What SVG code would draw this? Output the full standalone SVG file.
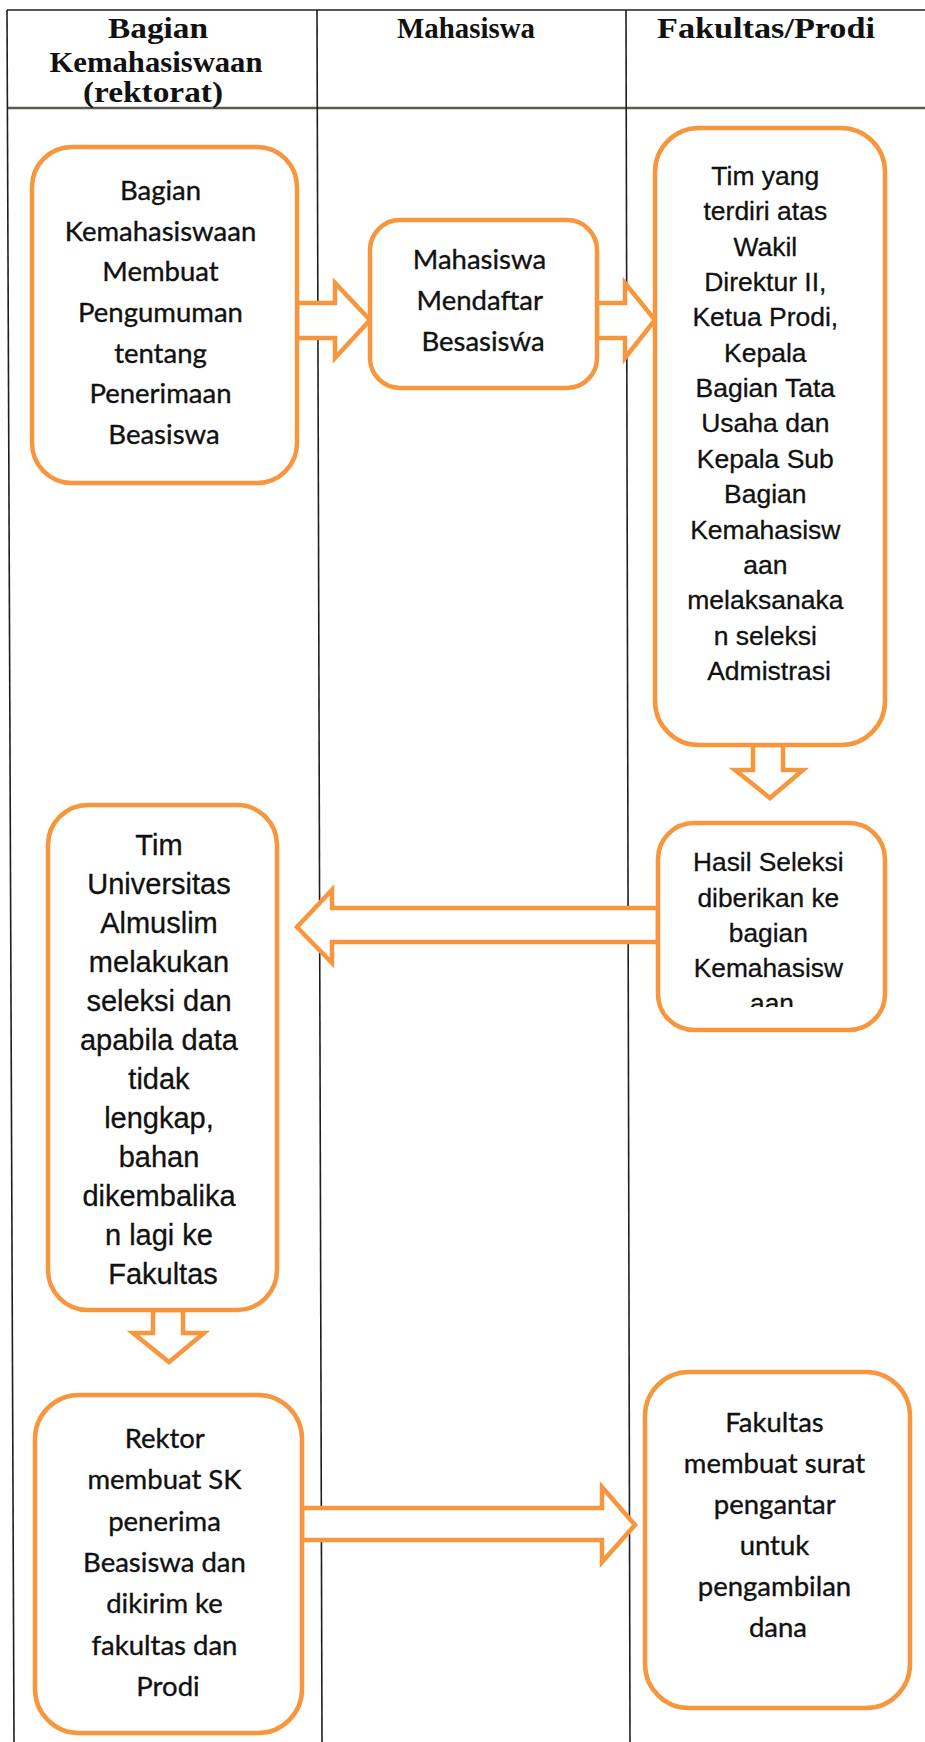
<svg xmlns="http://www.w3.org/2000/svg" width="925" height="1742" viewBox="0 0 925 1742">
  <style>
    .lane { stroke: #1e1e1e; stroke-width: 1.6; fill: none; }
    .rule { stroke: #5a5a50; stroke-width: 2.6; fill: none; }
    .box { fill: #ffffff; stroke: #f7963c; stroke-width: 4.5; }
    .arrow { fill: #ffffff; stroke: #f7963c; stroke-width: 4.5; stroke-linejoin: miter; }
    .head { font-family: "Liberation Serif", "Times New Roman", serif; font-weight: bold; font-size: 30px; fill: #111; text-anchor: middle; }
    .cal { font-family: Lato, "Open Sans", sans-serif; font-size: 27.5px; fill: #111; stroke: #111; stroke-width: 0.35; text-anchor: middle; }
    .ari { font-family: "Liberation Sans", Arial, sans-serif; fill: #111; stroke: #111; stroke-width: 0.3; text-anchor: middle; }
  </style>
  <defs>
    <clipPath id="clip-hasil">
      <rect x="658" y="823" width="227" height="184"/>
    </clipPath>
  </defs>

  <rect x="0" y="0" width="925" height="1742" fill="#ffffff"/>

  <!-- swimlane table -->
  <g id="lanes">
    <line class="lane" x1="7" y1="10" x2="925" y2="10"/>
    <line class="rule" x1="7" y1="108" x2="925" y2="108"/>
    <line class="lane" x1="7" y1="10" x2="14" y2="1742"/>
    <line class="lane" x1="317" y1="10" x2="322" y2="1742"/>
    <line class="lane" x1="626" y1="10" x2="630" y2="1742"/>
  </g>

  <g id="headers">
    <text class="head" x="158" y="38" textLength="100" lengthAdjust="spacingAndGlyphs">Bagian</text>
    <text class="head" x="156" y="72" textLength="213" lengthAdjust="spacingAndGlyphs">Kemahasiswaan</text>
    <text class="head" x="153" y="102" textLength="140" lengthAdjust="spacingAndGlyphs">(rektorat)</text>
    <text class="head" x="466" y="38" textLength="138" lengthAdjust="spacingAndGlyphs">Mahasiswa</text>
    <text class="head" x="766" y="38" textLength="218" lengthAdjust="spacingAndGlyphs">Fakultas/Prodi</text>
  </g>

  <!-- connectors: hollow block arrows -->
  <g id="connectors">
    <polygon class="arrow" points="297,303 335,303 335,283 370,320 335,358 335,338 297,338"/>
    <polygon class="arrow" points="597,303 625,303 625,283 655,320 625,358 625,338 597,338"/>
    <polygon class="arrow" points="753,745 783,745 783,770 803,770 770,798 735,770 753,770"/>
    <polygon class="arrow" points="658,908 332,908 332,890 297,927 332,963 332,942 658,942"/>
    <polygon class="arrow" points="153,1310 183,1310 183,1333 204,1333 169,1362 133,1333 153,1333"/>
    <polygon class="arrow" points="302,1508 602,1508 602,1487 635,1525 602,1562 602,1540 302,1540"/>
  </g>

  <g id="node-pengumuman">
    <rect class="box" x="32" y="147" width="265" height="336" rx="40"/>
    <text class="cal" x="164">
      <tspan x="164" y="200">Bagian</tspan>
      <tspan x="164" y="241">Kemahasiswaan</tspan>
      <tspan x="164" y="281">Membuat</tspan>
      <tspan x="164" y="322">Pengumuman</tspan>
      <tspan x="164" y="363">tentang</tspan>
      <tspan x="164" y="403">Penerimaan</tspan>
      <tspan x="164" y="444">Beasiswa</tspan>
    </text>
  </g>

  <g id="node-mendaftar">
    <rect class="box" x="370" y="220" width="227" height="168" rx="30"/>
    <text class="cal" x="483">
      <tspan x="483" y="269">Mahasiswa</tspan>
      <tspan x="483" y="310">Mendaftar</tspan>
      <tspan x="483" y="351">Besasisẃa</tspan>
    </text>
  </g>

  <g id="node-seleksi-admin">
    <rect class="box" x="655" y="128" width="230" height="617" rx="44"/>
    <text class="ari" font-size="26.5" x="769">
      <tspan x="769" y="185">Tim yang</tspan>
      <tspan x="769" y="220">terdiri atas</tspan>
      <tspan x="769" y="256">Wakil</tspan>
      <tspan x="769" y="291">Direktur II,</tspan>
      <tspan x="769" y="326">Ketua Prodi,</tspan>
      <tspan x="769" y="362">Kepala</tspan>
      <tspan x="769" y="397">Bagian Tata</tspan>
      <tspan x="769" y="432">Usaha dan</tspan>
      <tspan x="769" y="468">Kepala Sub</tspan>
      <tspan x="769" y="503">Bagian</tspan>
      <tspan x="769" y="539">Kemahasisw</tspan>
      <tspan x="769" y="574">aan</tspan>
      <tspan x="769" y="609">melaksanaka</tspan>
      <tspan x="769" y="645">n seleksi</tspan>
      <tspan x="769" y="680">Admistrasi</tspan>
    </text>
  </g>

  <g id="node-hasil">
    <rect class="box" x="658" y="823" width="227" height="207" rx="36"/>
    <text class="ari" font-size="26.3" x="772" clip-path="url(#clip-hasil)">
      <tspan x="772" y="871">Hasil Seleksi</tspan>
      <tspan x="772" y="907">diberikan ke</tspan>
      <tspan x="772" y="942">bagian</tspan>
      <tspan x="772" y="977">Kemahasisw</tspan>
      <tspan x="772" y="1012">aan</tspan>
    </text>
  </g>

  <g id="node-universitas">
    <rect class="box" x="48" y="805" width="229" height="505" rx="40"/>
    <text class="ari" font-size="29" x="163">
      <tspan x="163" y="855">Tim</tspan>
      <tspan x="163" y="894">Universitas</tspan>
      <tspan x="163" y="933">Almuslim</tspan>
      <tspan x="163" y="972">melakukan</tspan>
      <tspan x="163" y="1011">seleksi dan</tspan>
      <tspan x="163" y="1050">apabila data</tspan>
      <tspan x="163" y="1089">tidak</tspan>
      <tspan x="163" y="1128">lengkap,</tspan>
      <tspan x="163" y="1167">bahan</tspan>
      <tspan x="163" y="1206">dikembalika</tspan>
      <tspan x="163" y="1245">n lagi ke</tspan>
      <tspan x="163" y="1284">Fakultas</tspan>
    </text>
  </g>

  <g id="node-sk">
    <rect class="box" x="35" y="1395" width="267" height="338" rx="44"/>
    <text class="cal" x="168">
      <tspan x="168" y="1448">Rektor</tspan>
      <tspan x="168" y="1489">membuat SK</tspan>
      <tspan x="168" y="1531">penerima</tspan>
      <tspan x="168" y="1572">Beasiswa dan</tspan>
      <tspan x="168" y="1613">dikirim ke</tspan>
      <tspan x="168" y="1655">fakultas dan</tspan>
      <tspan x="168" y="1696">Prodi</tspan>
    </text>
  </g>

  <g id="node-pengantar">
    <rect class="box" x="645" y="1372" width="265" height="336" rx="44"/>
    <text class="cal" x="778">
      <tspan x="778" y="1432">Fakultas</tspan>
      <tspan x="778" y="1473">membuat surat</tspan>
      <tspan x="778" y="1514">pengantar</tspan>
      <tspan x="778" y="1555">untuk</tspan>
      <tspan x="778" y="1596">pengambilan</tspan>
      <tspan x="778" y="1637">dana</tspan>
    </text>
  </g>
</svg>
